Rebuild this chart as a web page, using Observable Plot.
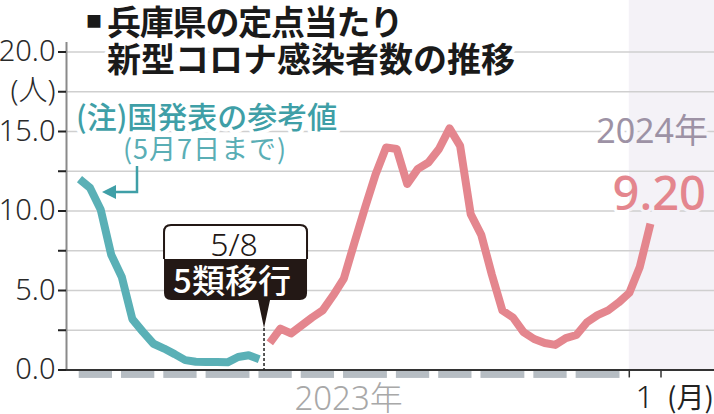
<!DOCTYPE html>
<html><head><meta charset="utf-8">
<script src="https://cdn.jsdelivr.net/npm/d3@7"></script>
<script src="https://cdn.jsdelivr.net/npm/@observablehq/plot@0.6"></script>
<style>body{margin:0;background:#fff}svg{display:block}</style>
</head><body><div id="chart"></div>
<script>
// Weekly values per sentinel site (index 0 = first week of 2023)
const tealValues = [12.0, 11.45, 10.1, 7.25, 5.85, 3.2, 2.4, 1.65, 1.35, 1.0, 0.62, 0.52, 0.5, 0.5, 0.48, 0.82, 0.93, 0.68];
const pinkValues = [1.7, 2.6, 2.3, 2.8, 3.3, 3.75, 4.7, 5.75, 8.0, 10.2, 12.3, 14.0, 13.9, 11.7, 12.65, 13.05, 13.9, 15.2, 14.1, 9.8, 8.5, 6.0, 3.74, 3.3, 2.38, 1.95, 1.7, 1.58, 2.0, 2.2, 3.0, 3.45, 3.75, 4.25, 4.85, 6.5, 9.2];
const monthWeeks2023 = [4, 4, 4, 5, 4, 4, 5, 4, 4, 5, 4, 5];
const yTickValues = [0, 2.5, 5, 7.5, 10, 12.5, 15, 17.5, 20];
const yTickLabels = ["0.0", "", "5.0", "", "10.0", "", "15.0", "(人)", "20.0"];
const eventWeek = 17.5;          // 5/8 transition
const eventDate = "5/8";
const eventText = "5類移行";
const year2024Week = 52;
const janTickWeeks = [52, 55];
const yearLabel2023 = "2023年";
const yearLabel2024 = "2024年";
const janLabel = "1";
const monthUnit = "(月)";
const latestLabel = "9.20";
const titleLines = ["兵庫県の定点当たり", "新型コロナ感染者数の推移"];
const noteLines = ["(注)国発表の参考値", "(5月7日まで)"];

const W = 714, H = 414;
const FONT = "'Noto Sans', 'Noto Sans CJK JP', sans-serif";
const JFONT = "'Noto Sans CJK JP', 'Noto Sans', sans-serif";
const TEAL = "#5ab0b6", PINK = "#e4868e", SHADE = "#f4f2f7";

const tealData = tealValues.map((v, i) => ({w: i, v}));
const pinkData = pinkValues.map((v, i) => ({w: i + tealValues.length, v}));
let acc = 0;
const dashes = monthWeeks2023.map(n => { const d = {x1: acc - 0.5, x2: acc + n - 0.5}; acc += n; return d; });
const xDom = [-1.23, 60.06];

const plot = Plot.plot({
  width: W, height: H,
  marginLeft: 66, marginRight: 0, marginTop: 51.5, marginBottom: 44.5,
  x: {domain: xDom, axis: null},
  y: {domain: [0, 20], axis: null},
  style: {background: "transparent", overflow: "visible"},
  marks: [
    Plot.rect([{x1: year2024Week, x2: xDom[1]}], {x1: "x1", x2: "x2", y1: 0, y2: 23.3, fill: SHADE}),
    Plot.ruleY(yTickValues.filter(d => d > 0), {stroke: "#cfcfcf", strokeWidth: 1.5}),
    Plot.line(tealData, {x: "w", y: "v", stroke: TEAL, strokeWidth: 8, strokeLinejoin: "round", strokeLinecap: "butt"}),
    Plot.line(pinkData, {x: "w", y: "v", stroke: PINK, strokeWidth: 8, strokeLinejoin: "round", strokeLinecap: "butt"}),
    Plot.ruleX([xDom[0]], {y1: 0, y2: 20.6, stroke: "#8a8a8a", strokeWidth: 2}),
    Plot.axisY(yTickValues, {
      anchor: "left", tickSize: 8, tickPadding: 3,
      tickFormat: d => yTickLabels[yTickValues.indexOf(d)],
      stroke: "#222", strokeWidth: 2, fill: "#2a2a2a",
      fontSize: 29, fontFamily: FONT, fontWeight: 300, label: null
    }),
    Plot.rect(dashes, {x1: "x1", x2: "x2", y1: 0, y2: -0.53, insetLeft: 5, insetRight: 4, fill: "#b6bdc3"}),
    Plot.ruleY([0], {stroke: "#333", strokeWidth: 2}),
    Plot.ruleX(janTickWeeks, {y1: 0, y2: -0.5, stroke: "#333", strokeWidth: 1.5})
  ]
});
document.getElementById("chart").appendChild(plot);

const svg = d3.select(plot);
const xs = plot.scale("x"), ys = plot.scale("y");
const X = v => xs.apply(v), Y = v => ys.apply(v);

const defs = svg.append("defs");
const grad = defs.append("linearGradient").attr("id", "halo2024")
  .attr("gradientUnits", "userSpaceOnUse").attr("x1", 0).attr("x2", W).attr("y1", 0).attr("y2", 0);
const t = X(year2024Week) / W;
grad.append("stop").attr("offset", t).attr("stop-color", "#fff");
grad.append("stop").attr("offset", t).attr("stop-color", SHADE);

function txt(x, y, s, o = {}) {
  const e = svg.append("text").attr("x", x).attr("y", y)
    .attr("font-size", o.size).attr("font-weight", o.weight || 400)
    .attr("fill", o.fill || "#222").attr("text-anchor", o.anchor || "start")
    .attr("font-family", o.family || JFONT).text(s);
  if (o.ls) e.attr("letter-spacing", o.ls);
  if (o.halo) e.attr("stroke", o.halo).attr("stroke-width", o.haloW || 8)
    .attr("stroke-linejoin", "round").attr("paint-order", "stroke");
  return e;
}

// Title
txt(86, 27, "■", {size: 16, weight: 700, fill: "#1a1a1a"});
txt(107, 35, titleLines[0], {size: 34, weight: 700, fill: "#1a1a1a", ls: -1.2, halo: "#fff"});
txt(107, 72, titleLines[1], {size: 34, weight: 700, fill: "#1a1a1a", ls: 0, halo: "#fff"});

// Note
txt(76, 128, noteLines[0], {size: 30, weight: 500, fill: "#3f9fa7", halo: "#fff"});
txt(205, 159, noteLines[1], {size: 27, weight: 400, fill: "#5aaeb5", anchor: "middle", ls: 1, halo: "#fff"});
svg.append("path").attr("d", "M137,166 V192 H113").attr("fill", "none").attr("stroke", "#3f9fa7").attr("stroke-width", 2.5);
svg.append("path").attr("d", "M102,192 L116,185 L116,199 Z").attr("fill", "#3f9fa7");

// 5/8 callout
const ex = X(eventWeek), y0 = Y(0);
const tipY = y0 - 41.5;
const bx0 = ex - 100, bx1 = ex + 43, by0 = 225, byM = 259, by1 = 300, r = 7;
svg.append("line").attr("x1", ex).attr("x2", ex).attr("y1", tipY).attr("y2", y0)
  .attr("stroke", "#222").attr("stroke-width", 1.5).attr("stroke-dasharray", "3,2");
svg.append("path").attr("d",
  `M${bx0},${byM} H${bx1} V${by1 - r} Q${bx1},${by1} ${bx1 - r},${by1} H${ex + 6} L${ex},${tipY} L${ex - 6},${by1} H${bx0 + r} Q${bx0},${by1} ${bx0},${by1 - r} Z`)
  .attr("fill", "#231815");
svg.append("path").attr("d",
  `M${bx0},${byM} V${by0 + r} Q${bx0},${by0} ${bx0 + r},${by0} H${bx1 - r} Q${bx1},${by0} ${bx1},${by0 + r} V${byM}`)
  .attr("fill", "#fff").attr("stroke", "#231815").attr("stroke-width", 2);
txt(ex - 30, 256, eventDate, {size: 32, weight: 300, fill: "#231815", anchor: "middle", family: FONT});
txt(ex - 32, 293, eventText, {size: 33, weight: 500, fill: "#fff", anchor: "middle"});

// 2024 labels
txt(708, 143, yearLabel2024, {size: 34, weight: 400, fill: "#9d92a5", anchor: "end", family: FONT, halo: "url(#halo2024)"});
txt(706, 210, latestLabel, {size: 47, weight: 500, fill: PINK, anchor: "end", family: FONT, halo: "url(#halo2024)", haloW: 6});

// x labels
txt(X(25.5), 410, yearLabel2023, {size: 33, weight: 300, fill: "#a8a8a8", anchor: "middle", family: FONT});
txt(X((janTickWeeks[0] + janTickWeeks[1]) / 2), 408, janLabel, {size: 32, weight: 300, fill: "#222", anchor: "middle", family: FONT});
txt(714, 408, monthUnit, {size: 28, weight: 400, fill: "#222", anchor: "end"});
</script>
</body></html>
